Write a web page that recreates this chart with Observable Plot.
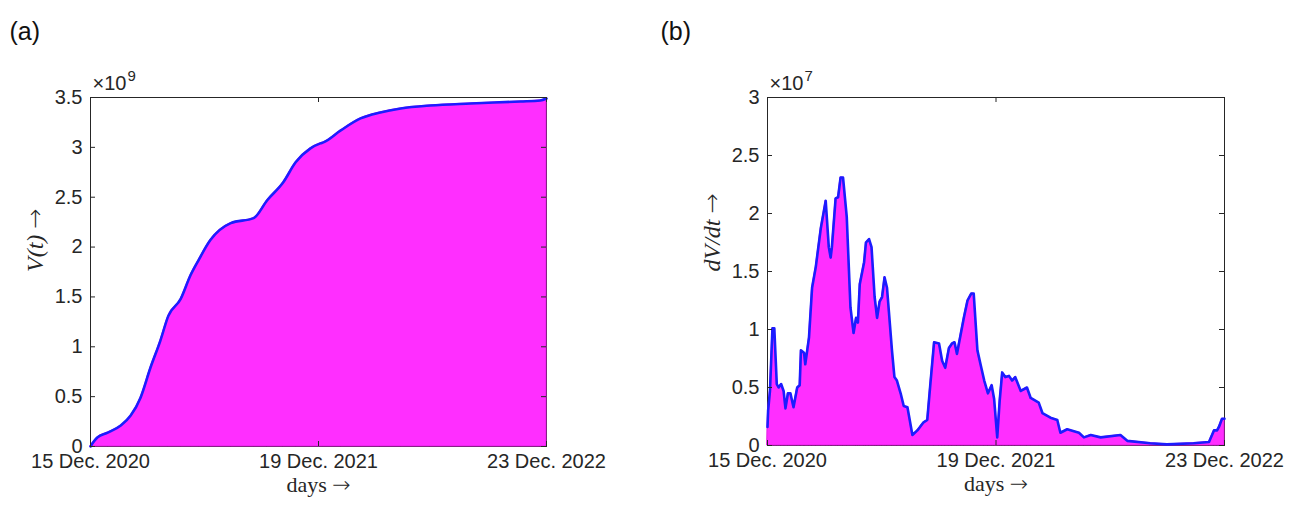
<!DOCTYPE html>
<html>
<head>
<meta charset="utf-8">
<script src="https://cdn.jsdelivr.net/npm/d3@7"></script>
<script src="https://cdn.jsdelivr.net/npm/@observablehq/plot@0.6"></script>
<style>
  html, body { margin: 0; padding: 0; background: #ffffff; }
  #wrap { position: relative; width: 1303px; height: 506px; overflow: hidden; }
  #pa, #pb { position: absolute; top: 0; }
  #pa { left: 0; }
  #pb { left: 651px; }
</style>
</head>
<body>
<div id="wrap"><div id="pa"></div><div id="pb"></div></div>
<script>
// ---- x-axis ticks (days since 15 Dec. 2020) ----
const xTickDays = [0, 369, 738];
const xTickLabels = ["15 Dec. 2020", "19 Dec. 2021", "23 Dec. 2022"];

// ---- panel (a): cumulative vaccinations V(t), units of 1e9 ----
const vDays   = [0, 3, 11, 28, 49, 65, 81, 97, 113, 126, 146, 162, 175, 194, 227, 264, 286, 312, 332, 356, 372, 377, 405, 437, 469, 502, 550, 615, 696, 728, 738];
const vValues = [0, 0.03, 0.09, 0.14, 0.21, 0.31, 0.49, 0.79, 1.06, 1.31, 1.48, 1.72, 1.87, 2.07, 2.24, 2.29, 2.47, 2.65, 2.85, 2.99, 3.04, 3.05, 3.17, 3.29, 3.35, 3.39, 3.42, 3.44, 3.46, 3.47, 3.49];
const yTicksA = [0, 0.5, 1, 1.5, 2, 2.5, 3, 3.5];

// ---- panel (b): daily vaccinations dV/dt, units of 1e7 ----
const dDays   = [0, 1, 4, 8, 11, 15, 18, 22, 26, 29, 33, 37, 42, 48, 52, 54, 59, 61, 67, 72, 78, 86, 94, 99, 102, 104, 110, 114, 118, 122, 128, 134, 139, 143, 146, 149, 156, 159, 164, 168, 173, 177, 181, 185, 189, 193, 201, 205, 209, 215, 220, 226, 234, 242, 252, 258, 263, 269, 277, 282, 287, 293, 298, 302, 306, 312, 317, 323, 329, 333, 339, 344, 350, 356, 362, 366, 371, 375, 379, 384, 390, 395, 400, 409, 419, 425, 438, 444, 457, 468, 473, 484, 503, 511, 522, 538, 570, 581, 618, 645, 688, 713, 721, 726, 729, 734, 738];
const dValues = [0.16, 0.30, 0.47, 1.01, 1.01, 0.53, 0.50, 0.53, 0.47, 0.32, 0.45, 0.45, 0.33, 0.50, 0.52, 0.82, 0.80, 0.70, 0.93, 1.36, 1.54, 1.87, 2.11, 1.71, 1.62, 1.71, 2.13, 2.14, 2.31, 2.31, 1.97, 1.19, 0.97, 1.10, 1.06, 1.39, 1.58, 1.75, 1.78, 1.71, 1.28, 1.10, 1.24, 1.28, 1.45, 1.36, 0.82, 0.59, 0.56, 0.45, 0.34, 0.33, 0.09, 0.13, 0.20, 0.22, 0.53, 0.89, 0.88, 0.73, 0.67, 0.84, 0.88, 0.89, 0.79, 0.96, 1.10, 1.25, 1.31, 1.31, 0.82, 0.70, 0.56, 0.45, 0.52, 0.40, 0.07, 0.39, 0.63, 0.59, 0.60, 0.56, 0.59, 0.47, 0.50, 0.41, 0.37, 0.28, 0.24, 0.22, 0.11, 0.14, 0.11, 0.07, 0.09, 0.07, 0.09, 0.04, 0.02, 0.01, 0.02, 0.03, 0.13, 0.13, 0.16, 0.23, 0.23];
const yTicksB = [0, 0.5, 1, 1.5, 2, 2.5, 3];

const W = 651, H = 506;
const INK = "#262626";
const SANS = "Liberation Sans, Arial, Helvetica, sans-serif";
const SERIF = "Liberation Serif, Times New Roman, serif";

function panel(opts) {
  const {days, values, yMax, yTicks, ylabel, exponent, letter, curve, marginLeft, marginRight, marginTop, marginBottom} = opts;
  const data = days.map((d, i) => ({day: d, v: values[i]}));
  const fw = W - marginLeft - marginRight;
  const fh = H - marginTop - marginBottom;
  const svg = Plot.plot({
    width: W, height: H,
    marginLeft, marginRight, marginTop, marginBottom,
    x: {domain: [0, 738]},
    y: {domain: [0, yMax]},
    style: {fontFamily: SANS, fontSize: "20px", color: INK, background: "white", overflow: "visible"},
    marks: [
      Plot.frame({stroke: INK, strokeWidth: 1}),
      Plot.areaY(data, {x: "day", y: "v", fill: "#ff2eff", stroke: "#e61ee6", strokeWidth: 1, curve}),
      Plot.lineY(data, {x: "day", y: "v", stroke: "#1c1cff", strokeWidth: 2.6, curve}),
      Plot.tickY(yTicks, {y: d => d, insetRight: fw - 5, stroke: INK}),
      Plot.tickY(yTicks, {y: d => d, insetLeft: fw - 5, stroke: INK}),
      Plot.tickX(xTickDays, {x: d => d, insetBottom: fh - 5, stroke: INK}),
      Plot.tickX(xTickDays, {x: d => d, insetTop: fh - 5, stroke: INK}),
      Plot.axisY({ticks: yTicks, tickSize: 0, tickPadding: 8, tickFormat: d => String(d), label: null, fontSize: 20}),
      Plot.axisX({ticks: xTickDays, tickSize: 0, tickPadding: 7, tickFormat: d => xTickLabels[xTickDays.indexOf(d)], label: null, fontSize: 20}),
      Plot.text([ylabel], {frameAnchor: "left", dx: -55, rotate: -90, text: d => d, fontFamily: SERIF, fontStyle: "italic", fontSize: 24, fill: INK}),
      Plot.text(["days \u2192"], {frameAnchor: "bottom", dy: 45, text: d => d, fontFamily: SERIF, fontSize: 22, fill: INK}),
      Plot.text(["\u00d710"], {frameAnchor: "top-left", dx: 2, dy: -8, lineAnchor: "bottom", textAnchor: "start", text: d => d, fontSize: 20, fill: INK}),
      Plot.text([exponent], {frameAnchor: "top-left", dx: 37, dy: -17, lineAnchor: "bottom", textAnchor: "start", text: d => d, fontSize: 15, fill: INK}),
      Plot.text([letter], {frameAnchor: "top-left", dx: 9 - marginLeft, dy: 22 - marginTop, textAnchor: "start", text: d => d, fontSize: 25, fill: "#111"})
    ]
  });
  // render the arrow like LaTeX's \rightarrow (upright, longer)
  d3.select(svg).selectAll("text").each(function () {
    const t = d3.select(this);
    if (t.selectAll("tspan").size() > 0) return;
    const s = t.text();
    if (!s.includes("\u2192")) return;
    t.text(null);
    t.append("tspan").text(s.replace(" \u2192", "") + " ");
    t.append("tspan").attr("font-family", "DejaVu Sans").attr("font-style", "normal").attr("font-weight", "300").text("\u2192");
  });
  return svg;
}

document.getElementById("pa").append(panel({
  days: vDays, values: vValues, yMax: 3.5, yTicks: yTicksA,
  ylabel: "V(t) \u2192", exponent: "9", letter: "(a)", curve: "monotone-x",
  marginLeft: 90, marginRight: 105, marginTop: 97, marginBottom: 60
}));
document.getElementById("pb").append(panel({
  days: dDays, values: dValues, yMax: 3, yTicks: yTicksB,
  ylabel: "dV/dt \u2192", exponent: "7", letter: "(b)", curve: "linear",
  marginLeft: 116, marginRight: 78, marginTop: 97, marginBottom: 61
}));
</script>
</body>
</html>
